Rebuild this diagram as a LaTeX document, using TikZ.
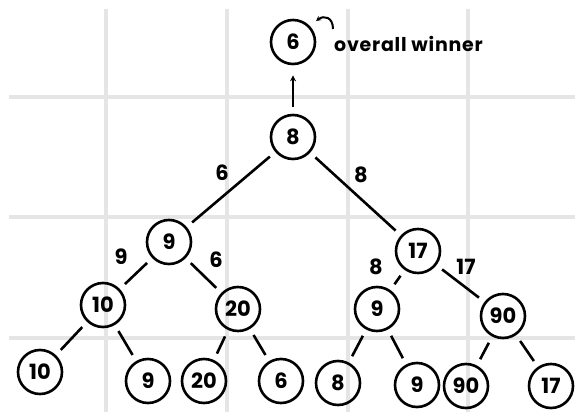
\documentclass[tikz,border=0pt]{standalone}
\usepackage{fontspec}
\setmainfont{Poppins}
\usetikzlibrary{arrows.meta}

\tikzset{
  gridline/.style={draw=black!10, line width=3.5pt},
  branch/.style={line width=2.6pt, shorten <=7pt, shorten >=7pt},
  wt/.style={font=\fontsize{21}{21}\selectfont\bfseries, inner sep=0pt},
}

\begin{document}
\begin{tikzpicture}[x=1pt,y=-1pt]

      \useasboundingbox (0,0) rectangle (575,412);
      \fill[white] (0,0) rectangle (575,412);

      % background squares
      \foreach \gx in {106,227,348,468}
        \draw[gridline] (\gx,9) -- (\gx,412);
      \foreach \gy in {97,217,338}
        \draw[gridline] (9,\gy) -- (575,\gy);

      \begin{scope}[every node/.style={circle,draw,line width=2.6pt,minimum size=44pt,inner sep=0pt,
          font=\fontsize{21}{21}\selectfont\bfseries}]
        \node (top) at (293,42)  {6};
        \node (r)   at (293,137) {8};
        \node (a)   at (169,242) {9};
        \node (b)   at (418,251) {17};
        \node (aa)  at (103,305) {10};
        \node (ab)  at (238,309) {20};
        \node (ba)  at (377,309) {9};
        \node (bb)  at (503,316) {90};
        \node (l1)  at (40,372)  {10};
        \node (l2)  at (148,381) {9};
        \node (l3)  at (204,381) {20};
        \node (l4)  at (281,381) {6};
        \node (l5)  at (338,383) {8};
        \node (l6)  at (417,385) {9};
        \node (l7)  at (466,386) {90};
        \node (l8)  at (551,386) {17};
      \end{scope}

      \node[wt, anchor=west, font=\fontsize{19}{19}\selectfont\bfseries\addfontfeature{LetterSpace=4}] (win) at (334,44) {overall winner};

      % winners passed up the tree
      \node[wt] (w1) at (222,173) {6};
      \node[wt] (w2) at (361,175) {8};
      \node[wt] (w3) at (121,257) {9};
      \node[wt] (w4) at (216,260) {6};
      \node[wt] (w5) at (376,267) {8};
      \node[wt] (w6) at (466,267) {17};

      \draw[branch] (r) -- (a);
      \draw[branch] (r) -- (b);
      \draw[branch] (a) -- (aa);
      \draw[branch] (a) -- (ab);
      \draw[branch] (b) -- (ba);
      \draw[branch] (b) -- (bb);
      \draw[branch] (aa) -- (l1);
      \draw[branch] (aa) -- (l2);
      \draw[branch] (ab) -- (l3);
      \draw[branch] (ab) -- (l4);
      \draw[branch] (ba) -- (l5);
      \draw[branch] (ba) -- (l6);
      \draw[branch] (bb) -- (l7);
      \draw[branch] (bb) -- (l8);

      \draw[line width=2.6pt, shorten <=7pt, shorten >=10pt, -{Stealth[length=6pt,width=6pt]}] (r) -- (top);

      % little hook pointing back at the root
      \coordinate (hook) at (333,29);
      \coordinate (hooktip) at (316,21);
      \draw[line width=2pt, -{Stealth[length=5pt,width=5pt]}]
        (hook) .. controls (333,17) and (324,15) .. (hooktip);

    \end{tikzpicture}
\end{document}
